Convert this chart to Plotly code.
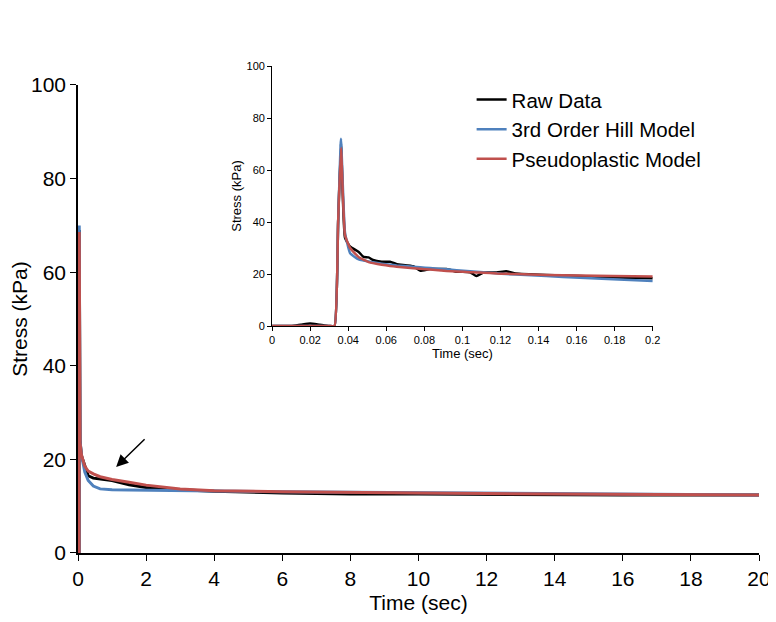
import plotly.graph_objects as go

# ---- Main plot data (0-20 s) ----
main_time = [0, 0.032, 0.036, 0.04, 0.06, 0.1, 0.2, 0.3, 0.45, 0.65, 1.0, 1.5, 2, 3, 4, 6, 8, 10, 12, 14, 16, 18, 20]
main_raw = [0, 0, 69, 33, 24, 20.8, 18.5, 16.5, 16.0, 15.8, 15.5, 14.6, 14.0, 13.5, 13.2, 12.8, 12.6, 12.6, 12.5, 12.4, 12.4, 12.4, 12.4]
main_hill = [0, 0, 70, 30, 24, 21, 17.3, 15.5, 14.3, 13.7, 13.5, 13.45, 13.4, 13.4, 13.3, 13.1, 13.0, 12.9, 12.8, 12.7, 12.6, 12.5, 12.4]
main_pseudo = [0, 0, 68.6, 33, 23.5, 21, 18.5, 17.5, 16.9, 16.3, 15.7, 15.1, 14.5, 13.7, 13.3, 13.1, 12.9, 12.8, 12.7, 12.6, 12.5, 12.5, 12.4]

# ---- Inset data (0-0.2 s) ----
inset_time = [0, 0.01, 0.015, 0.02, 0.025, 0.03, 0.0328, 0.0347, 0.0362, 0.0383, 0.041, 0.0455, 0.048,
              0.0507, 0.053, 0.0576, 0.062, 0.0655, 0.0742, 0.0777, 0.083, 0.0917, 0.097, 0.104, 0.1074,
              0.111, 0.118, 0.123, 0.128, 0.144, 0.1616, 0.179, 0.2]
inset_raw = [0, 0, 0.5, 1, 0.5, 0, 0, 40, 70, 34, 30.5, 28.5, 26.6, 26.4, 25.4, 24.7, 24.7, 23.8, 23, 21.3,
             21.9, 21.9, 20.9, 20.7, 19.2, 20.6, 20.6, 21.1, 20.2, 19.6, 19.2, 18.7, 18.4]
inset_hill = [0, 0, 0, 0, 0, 0, 0, 40, 72, 36, 28, 25.6, 25.2, 24.8, 24.5, 24, 23.6, 23.3, 22.8, 22.6,
              22.3, 21.8, 21.5, 21.1, 20.9, 20.7, 20.3, 20, 19.8, 19.2, 18.6, 18, 17.3]
inset_pseudo = [0, 0, 0, 0, 0, 0, 0, 40, 68.5, 35, 30, 26.5, 25.5, 24.6, 24.2, 23.6, 23.1, 22.8, 22.2, 22,
                21.7, 21.2, 21, 20.7, 20.6, 20.5, 20.2, 20.1, 20, 19.6, 19.4, 19.2, 19]

series_names = ["Raw Data", "3rd Order Hill Model", "Pseudoplastic Model"]
colors = ["#000000", "#4F81BD", "#C0504D"]

FONT = "Liberation Sans, Arial, sans-serif"

fig = go.Figure()

for i, (name, ys) in enumerate(zip(series_names, [main_raw, main_hill, main_pseudo])):
    fig.add_trace(go.Scatter(x=main_time, y=ys, mode="lines", name=name, showlegend=False,
                             line=dict(color=colors[i], width=3), xaxis="x", yaxis="y"))

for i, (name, ys) in enumerate(zip(series_names, [inset_raw, inset_hill, inset_pseudo])):
    fig.add_trace(go.Scatter(x=inset_time, y=ys, mode="lines", name=name, showlegend=True,
                             legendgroup=name, line_shape="spline",
                             line=dict(color=colors[i], width=2.5, smoothing=0.4),
                             xaxis="x2", yaxis="y2"))

axis_common = dict(showgrid=False, zeroline=False, showline=True, linecolor="black",
                   ticks="outside", tickcolor="black", automargin=False)

fig.update_layout(
    width=768, height=614,
    margin=dict(l=70, r=17, t=52, b=69),
    paper_bgcolor="white", plot_bgcolor="white",
    font=dict(family=FONT, color="black"),
    xaxis=dict(**axis_common, domain=[0, 1], range=[0, 20], dtick=2, linewidth=1.5, ticklen=6,
               tickfont=dict(size=21), title=dict(text="Time (sec)", font=dict(size=21), standoff=6)),
    yaxis=dict(**axis_common, domain=[0, 0.9493], range=[0, 100], dtick=20, linewidth=1.5, ticklen=6,
               tickfont=dict(size=21), title=dict(text="Stress (kPa)", font=dict(size=21), standoff=0)),
    xaxis2=dict(**axis_common, domain=[0.285, 0.844], range=[0, 0.2], dtick=0.02, anchor="y2",
                linewidth=1, ticklen=4, tickfont=dict(size=11),
                title=dict(text="Time (sec)", font=dict(size=13), standoff=1)),
    yaxis2=dict(**axis_common, domain=[0.4604, 0.9878], range=[0, 100], dtick=20, anchor="x2",
                linewidth=1, ticklen=4, tickfont=dict(size=11),
                title=dict(text="Stress (kPa)", font=dict(size=13), standoff=1)),
    legend=dict(x=0.578, y=0.96, xanchor="left", yanchor="top", bgcolor="rgba(0,0,0,0)",
                font=dict(size=20.5), traceorder="grouped", tracegroupgap=0),
    showlegend=True,
)

fig.add_annotation(x=1.12, y=18.4, ax=2.0, ay=24.6, xref="x", yref="y", axref="x", ayref="y",
                   text="", showarrow=True, arrowhead=2, arrowsize=1.6, arrowwidth=1.5,
                   arrowcolor="black")

fig.write_html("out.html")
